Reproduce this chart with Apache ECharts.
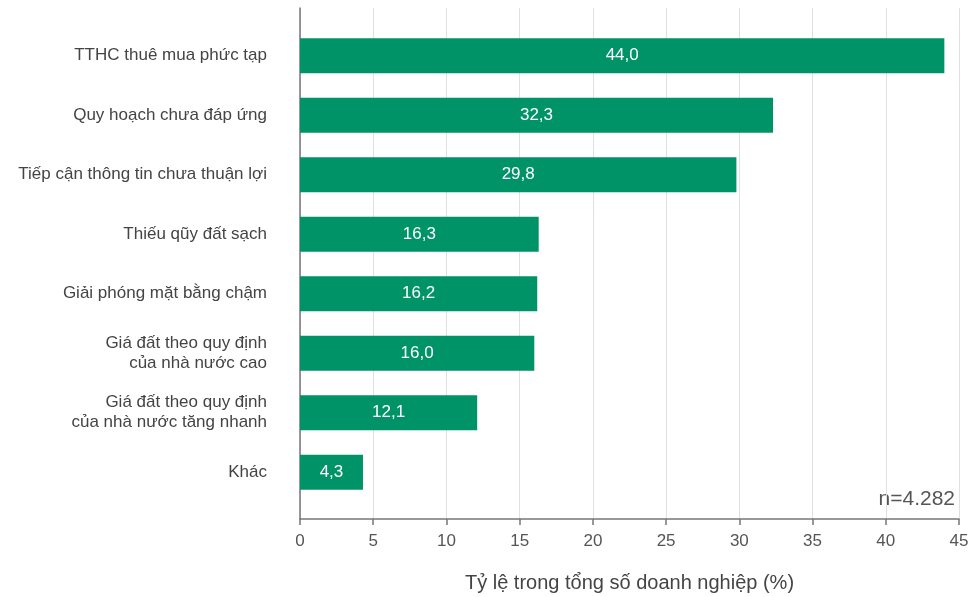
<!DOCTYPE html>
<html lang="vi">
<head>
  <meta charset="UTF-8">
  <title>Tỷ lệ trong tổng số doanh nghiệp</title>
  <script src="https://cdn.jsdelivr.net/npm/echarts@6/dist/echarts.min.js"></script>
  <style>
    body { margin: 0; padding: 0; background: #fff; }
    #chart { width: 976px; height: 597px; }
  </style>
</head>
<body>
  <div id="chart"></div>
  <script>
    // danh mục và giá trị (%)
    const categories = [
      'TTHC thuê mua phức tạp',
      'Quy hoạch chưa đáp ứng',
      'Tiếp cận thông tin chưa thuận lợi',
      'Thiếu qũy đất sạch',
      'Giải phóng mặt bằng chậm',
      'Giá đất theo quy định\ncủa nhà nước cao',
      'Giá đất theo quy định\ncủa nhà nước tăng nhanh',
      'Khác'
    ];
    const values = [44.0, 32.3, 29.8, 16.3, 16.2, 16.0, 12.1, 4.3];
    const xTicks = [0, 5, 10, 15, 20, 25, 30, 35, 40, 45];

    const font = 'Helvetica, Arial, "Liberation Sans", sans-serif';
    const chart = echarts.init(document.getElementById('chart'));

    chart.setOption({
      animation: false,
      textStyle: { fontFamily: font },
      grid: [
        { left: 300, right: 17, top: 8, bottom: 78, outerBoundsMode: 'none', containLabel: false },   // trục x + lưới
        { left: 300, right: 17, top: 26, bottom: 95, outerBoundsMode: 'none', containLabel: false }   // các thanh
      ],
      xAxis: [
        {
          gridIndex: 0, type: 'value', min: 0, max: 45, interval: 5,
          name: 'Tỷ lệ trong tổng số doanh nghiệp (%)',
          nameLocation: 'middle', nameGap: 54,
          nameTextStyle: { fontSize: 20, color: '#444' },
          axisLine: { show: true, lineStyle: { color: '#777', width: 1.5 } },
          axisTick: { show: true, length: 6, lineStyle: { color: '#777', width: 1.5 } },
          axisLabel: { fontSize: 17, color: '#555', margin: 14,
            formatter: v => xTicks.includes(v) ? String(v) : '' },
          splitLine: { show: true, lineStyle: { color: '#e0e0e0', width: 1 } }
        },
        {
          gridIndex: 1, type: 'value', min: 0, max: 45, interval: 5, show: false
        }
      ],
      yAxis: [
        {
          gridIndex: 0, type: 'value', min: 0, max: 1, show: true,
          axisLine: { show: true, lineStyle: { color: '#777', width: 1.5 } },
          axisTick: { show: false }, axisLabel: { show: false },
          splitLine: { show: false }
        },
        {
          gridIndex: 1, type: 'category', inverse: true, data: categories,
          axisLine: { show: false }, axisTick: { show: false },
          axisLabel: { fontSize: 17, color: '#444', margin: 33, lineHeight: 20, align: 'right' }
        }
      ],
      series: [
        {
          type: 'bar', xAxisIndex: 1, yAxisIndex: 1,
          data: values, barWidth: 35,
          itemStyle: { color: '#009367' },
          label: {
            show: true, position: 'inside', color: '#fff', fontSize: 17,
            formatter: p => p.value.toFixed(1).replace('.', ',')
          }
        }
      ],
      graphic: [
        {
          type: 'text', right: 21, top: 489,
          style: { text: 'n=4.282', fontSize: 21, fill: '#555', fontFamily: font }
        }
      ]
    });
  </script>
</body>
</html>
